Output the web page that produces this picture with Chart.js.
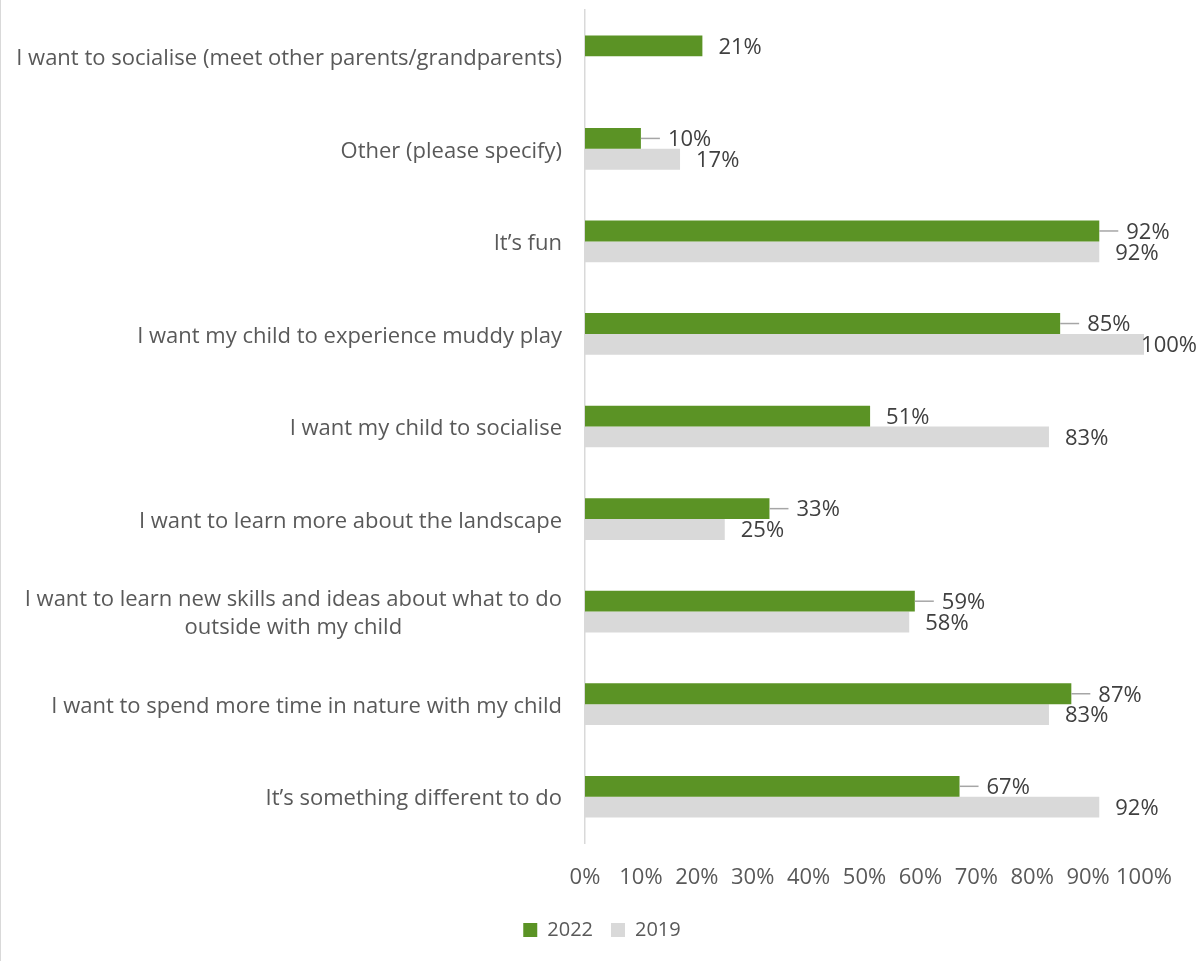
<!DOCTYPE html>
<html lang="en">
  <head>
    <meta charset="UTF-8" />
    <title>Reasons for attending</title>
    <script src="https://cdn.jsdelivr.net/npm/chart.js"></script>
    <style>
      body {
        margin: 0;
        background: #fff;
      }
      .wrap {
        width: 1202px;
        height: 961px;
        border-left: 1px solid #d9d9d9;
      }
    </style>
  </head>
  <body>
    <div class="wrap">
      <canvas id="reasonsChart" width="1202" height="961"></canvas>
    </div>

    <script>
      // Survey answers, top to bottom
      const reasons = [
        "I want to socialise (meet other parents/grandparents)",
        "Other (please specify)",
        "It\u2019s fun",
        "I want my child to experience muddy play",
        "I want my child to socialise",
        "I want to learn more about the landscape",
        ["I want to learn new skills and ideas about what to do", "outside with my child"],
        "I want to spend more time in nature with my child",
        "It\u2019s something different to do",
      ];
      const share2022 = [21, 10, 92, 85, 51, 33, 59, 87, 67];
      const share2019 = [null, 17, 92, 100, 83, 25, 58, 83, 92];
      const axisTicks = [0, 10, 20, 30, 40, 50, 60, 70, 80, 90, 100];

      const textGrey = "#595959";
      const fontFamily = "'Open Sans'";
      const labelFont = "22px " + fontFamily;

      // percentage next to each bar; some 2022 labels are pulled out with a short leader line
      const valueLabels = {
        id: "valueLabels",
        afterDatasetsDraw(chart, args, opts) {
          const ctx = chart.ctx;
          ctx.save();
          ctx.font = labelFont;
          ctx.fillStyle = "#404040";
          ctx.textBaseline = "middle";
          chart.data.datasets.forEach((ds, di) => {
            const meta = chart.getDatasetMeta(di);
            meta.data.forEach((bar, i) => {
              const v = ds.data[i];
              if (v == null) return;
              const text = v + "%";
              const lead = di === 0 && opts.leaders[i];
              const w = ctx.measureText(text).width;
              let x = bar.x + (lead ? 27 : 16);
              x = Math.min(x, chart.width - w - 6);
              if (lead) {
                ctx.strokeStyle = "#a6a6a6";
                ctx.lineWidth = 1.5;
                ctx.beginPath();
                ctx.moveTo(bar.x, bar.y);
                ctx.lineTo(x - 8, bar.y);
                ctx.stroke();
              }
              ctx.fillText(text, x, bar.y + 1.5);
            });
          });
          ctx.restore();
        },
      };

      // category names, each block centred on its own longest line
      const categoryLabels = {
        id: "categoryLabels",
        afterDraw(chart) {
          const ctx = chart.ctx;
          const y = chart.scales.y;
          const right = chart.chartArea.left - 23;
          const lineH = 28;
          ctx.save();
          ctx.font = labelFont;
          ctx.fillStyle = textGrey;
          ctx.textAlign = "center";
          ctx.textBaseline = "middle";
          reasons.forEach((label, i) => {
            const lines = Array.isArray(label) ? label : [label];
            const maxW = Math.max(...lines.map((l) => ctx.measureText(l).width));
            const cx = right - maxW / 2;
            const top = y.getPixelForTick(i) + 2.5 - ((lines.length - 1) * lineH) / 2;
            lines.forEach((l, k) => ctx.fillText(l, cx, top + k * lineH));
          });
          ctx.restore();
        },
      };

      const ctx = document.getElementById("reasonsChart").getContext("2d");
      new Chart(ctx, {
        type: "bar",
        data: {
          labels: reasons,
          datasets: [
            {
              label: "2022",
              data: share2022,
              yAxisID: "y",
              backgroundColor: "#5b9325",
              categoryPercentage: 0.45,
              barPercentage: 1.0,
            },
            {
              label: "2019",
              data: share2019,
              yAxisID: "y",
              backgroundColor: "#d9d9d9",
              categoryPercentage: 0.45,
              barPercentage: 1.0,
            },
          ],
        },
        options: {
          indexAxis: "y",
          responsive: false,
          animation: false,
          layout: { padding: { top: 10, right: 0, left: 0, bottom: 11 } },
          scales: {
            x: {
              min: 0,
              max: 100,
              afterBuildTicks: (scale) => {
                scale.ticks = axisTicks.map((v) => ({ value: v }));
              },
              afterFit: (scale) => {
                scale.height = 59;
              },
              grid: { display: false, drawTicks: false },
              border: { display: false },
              ticks: {
                padding: 22,
                maxRotation: 0,
                autoSkip: false,
                color: textGrey,
                font: { family: fontFamily, size: 22 },
                callback: (v) => v + "%",
              },
            },
            y: {
              afterFit: (scale) => {
                scale.width = 584;
              },
              grid: { display: false, drawTicks: false },
              border: { display: true, color: "#d9d9d9", width: 1.5 },
              ticks: { display: false },
            },
            // empty strip on the right so the last tick label has room
            yRight: {
              type: "linear",
              axis: "y",
              position: "right",
              afterFit: (scale) => {
                scale.width = 59;
              },
              grid: { display: false, drawTicks: false },
              border: { display: false },
              ticks: { display: false },
            },
          },
          plugins: {
            legend: {
              position: "bottom",
              labels: {
                boxWidth: 14,
                boxHeight: 14,
                padding: 18,
                color: textGrey,
                font: { family: fontFamily, size: 20 },
              },
            },
            tooltip: { enabled: false },
            valueLabels: {
              leaders: [false, true, true, true, false, true, true, true, true],
            },
          },
        },
        plugins: [valueLabels, categoryLabels],
      });
    </script>
  </body>
</html>
